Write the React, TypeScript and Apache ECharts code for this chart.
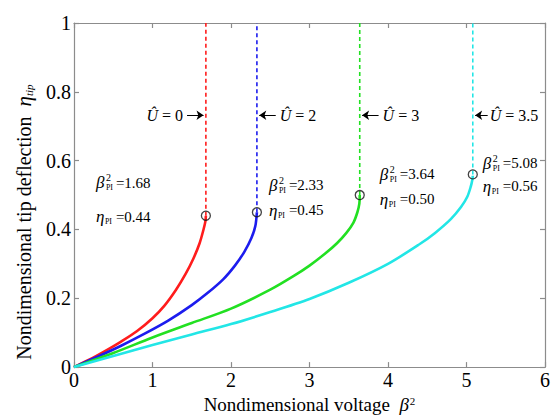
import React, { useEffect, useRef } from "react";
import * as echarts from "echarts";

const FONT = "Liberation Serif";

const xTickValues = [0, 1, 2, 3, 4, 5, 6];
const yTickValues = [0, 0.2, 0.4, 0.6, 0.8, 1];
const uLabels = ["0", "2", "3", "3.5"];
const piBeta = [1.68, 2.33, 3.64, 5.08];
const piEta = [0.44, 0.45, 0.5, 0.56];
const colors = ["#ff1c1c", "#1c1cee", "#22e022", "#22e6e6"];

const curveU0: [number, number][] = [
  [0, 0], [0.2, 0.022], [0.4, 0.047], [0.6, 0.074], [0.8, 0.104], [1.0, 0.142], [1.15, 0.178],
  [1.3, 0.225], [1.42, 0.27], [1.52, 0.315], [1.6, 0.36], [1.65, 0.4], [1.675, 0.425], [1.68, 0.44],
];
const curveU2: [number, number][] = [
  [0, 0], [0.3, 0.03], [0.6, 0.062], [0.9, 0.097], [1.2, 0.135], [1.5, 0.18], [1.7, 0.215],
  [1.9, 0.255], [2.05, 0.295], [2.17, 0.335], [2.26, 0.375], [2.31, 0.41], [2.33, 0.45],
];
const curveU3: [number, number][] = [
  [0, 0], [0.5, 0.041], [1, 0.086], [1.5, 0.128], [2, 0.17], [2.5, 0.225], [2.8, 0.265],
  [3.0, 0.295], [3.2, 0.33], [3.35, 0.36], [3.47, 0.39], [3.56, 0.42], [3.61, 0.45], [3.635, 0.475], [3.64, 0.5],
];
const curveU35: [number, number][] = [
  [0, 0], [0.5, 0.032], [1, 0.064], [1.5, 0.095], [2, 0.125], [2.5, 0.16], [3, 0.198],
  [3.5, 0.245], [4, 0.3], [4.4, 0.357], [4.6, 0.39], [4.8, 0.43], [4.93, 0.465], [5.01, 0.495],
  [5.055, 0.525], [5.075, 0.545], [5.08, 0.556],
];
const curves = [curveU0, curveU2, curveU3, curveU35];

const arrowEta = 0.732;

export default function App() {
  const ref = useRef<HTMLDivElement>(null);
  useEffect(() => {
    if (!ref.current) return;
    const chart = echarts.init(ref.current, null, { renderer: "svg" });

    const arrowSide = [-1, 1, 1, 1];
    const arrowTail = [0.24, 0.24, 0.24, 0.19];

    const axisLineStyle = { color: "#8c8c8c", width: 1.2 };
    const baseOption: any = {
      animation: false,
      backgroundColor: "#fff",
      textStyle: { fontFamily: FONT },
      grid: { left: 74, right: 4, top: 23, bottom: 49, containLabel: false },
      xAxis: [
        {
          type: "value", min: 0, max: 6, interval: 1, position: "bottom",
          axisLine: { show: true, onZero: false, lineStyle: axisLineStyle },
          axisTick: { show: true, inside: true, length: 5, lineStyle: axisLineStyle },
          splitLine: { show: false },
          axisLabel: { color: "#000", fontFamily: FONT, fontSize: 20, margin: 3,
            formatter: (v: number) => (xTickValues.includes(v) ? String(v) : "") },
          name: "{a|Nondimensional voltage  }{b|β}{c|2}",
          nameLocation: "middle", nameGap: 27,
          nameTextStyle: {
            color: "#000", fontFamily: FONT, fontSize: 19,
            rich: {
              a: { fontFamily: FONT, fontSize: 19, color: "#000" },
              b: { fontFamily: FONT, fontSize: 19, fontStyle: "italic", color: "#000" },
              c: { fontFamily: FONT, fontSize: 11, color: "#000", verticalAlign: "top", padding: [0, 0, 8, 1] },
            },
          },
        },
        {
          type: "value", min: 0, max: 6, interval: 1, position: "top",
          axisLine: { show: true, onZero: false, lineStyle: axisLineStyle },
          axisTick: { show: true, inside: true, length: 5, lineStyle: axisLineStyle },
          axisLabel: { show: false }, splitLine: { show: false },
        },
      ],
      yAxis: [
        {
          type: "value", min: 0, max: 1, interval: 0.2, position: "left",
          axisLine: { show: true, onZero: false, lineStyle: axisLineStyle },
          axisTick: { show: true, inside: true, length: 5, lineStyle: axisLineStyle },
          splitLine: { show: false },
          axisLabel: { color: "#000", fontFamily: FONT, fontSize: 20, margin: 3,
            formatter: (v: number) => {
              const t = yTickValues.find((y) => Math.abs(y - v) < 1e-9);
              return t === undefined ? "" : String(Math.round(t * 10) / 10);
            } },
          name: "{a|Nondimensional tip deflection  }{b|η}{c|tip}",
          nameLocation: "middle", nameGap: 40, nameRotate: 90,
          nameTextStyle: {
            color: "#000", fontFamily: FONT, fontSize: 20,
            padding: [0, 54, 0, 0],
            rich: {
              a: { fontFamily: FONT, fontSize: 20, color: "#000" },
              b: { fontFamily: FONT, fontSize: 21, fontStyle: "italic", color: "#000" },
              c: { fontFamily: FONT, fontSize: 11, fontStyle: "italic", color: "#000", verticalAlign: "bottom", padding: [6, 0, 0, 0] },
            },
          },
        },
        {
          type: "value", min: 0, max: 1, interval: 0.2, position: "right",
          axisLine: { show: true, onZero: false, lineStyle: axisLineStyle },
          axisTick: { show: true, inside: true, length: 5, lineStyle: axisLineStyle },
          axisLabel: { show: false }, splitLine: { show: false },
        },
      ],
      series: [
        ...curves.map((c, i) => ({
          type: "line", name: "U=" + uLabels[i], data: c, showSymbol: false, symbol: "none",
          smooth: 0.3, lineStyle: { color: colors[i], width: 2.6 }, z: 3,
        })),
        ...piBeta.map((b, i) => ({
          type: "line", data: [[b, piEta[i]], [b, 1]], showSymbol: false, symbol: "none",
          lineStyle: { color: colors[i], width: 1.6, type: [4, 3] }, z: 2,
          markLine: {
            silent: true, symbol: ["none", "arrow"], symbolSize: 7, label: { show: false },
            lineStyle: { color: "#000", width: 1, type: "solid" },
            emphasis: { disabled: true },
            data: [[
              { coord: [b + arrowSide[i] * arrowTail[i], arrowEta] },
              { coord: [b + arrowSide[i] * 0.03, arrowEta] },
            ]],
          },
        })),
        {
          type: "scatter", data: piBeta.map((b, i) => [b, piEta[i]]), symbol: "circle", symbolSize: 9,
          itemStyle: { color: "rgba(255,255,255,0)", borderColor: "#111", borderWidth: 1.3 }, z: 5,
        },
      ],
    };
    chart.setOption(baseOption);

    const graphics: any[] = [];
    piBeta.forEach((b, i) => {
      const tail = chart.convertToPixel({ xAxisIndex: 0, yAxisIndex: 0 }, [b + arrowSide[i] * arrowTail[i], arrowEta]) as number[];
      const left = arrowSide[i] < 0;
      graphics.push({
        type: "text",
        x: left ? tail[0] - 4 : tail[0] + (i === 3 ? 2 : 4),
        y: tail[1],
        style: {
          text: "{u|Û}{e| = " + uLabels[i] + "}",
          align: left ? "right" : "left", verticalAlign: "middle",
          rich: {
            u: { fontFamily: FONT, fontSize: 16, fontStyle: "italic", fill: "#000" },
            e: { fontFamily: FONT, fontSize: 16, fill: "#000" },
          },
        },
      });
    });
    const offs = [
      { dx: -110, by: -33, ey: 1 },
      { dx: 12, by: -27, ey: -2 },
      { dx: 20, by: -21, ey: 4 },
      { dx: 10, by: -11, ey: 12 },
    ];
    piBeta.forEach((b, i) => {
      const p = chart.convertToPixel({ xAxisIndex: 0, yAxisIndex: 0 }, [b, piEta[i]]) as number[];
      const L = p[0] + offs[i].dx;
      const yb = p[1] + offs[i].by;
      const ye = p[1] + offs[i].ey;
      const t = (text: string, x: number, y: number, size: number, italic = false) => ({
        type: "text", x, y,
        style: { text, fontFamily: FONT, fontSize: size, fontStyle: italic ? "italic" : "normal", fill: "#000", align: "left", verticalAlign: "middle" },
      });
      graphics.push(t("β", L, yb, 17, true));
      graphics.push(t("2", L + 10, yb - 5, 10));
      graphics.push(t("PI", L + 10, yb + 5, 8));
      graphics.push(t("=" + b.toFixed(2), L + 20, yb, 15));
      graphics.push(t("η", L, ye, 17, true));
      graphics.push(t("PI", L + 9, ye + 5, 8));
      graphics.push(t("=" + piEta[i].toFixed(2), L + 20, ye, 15));
    });
    chart.setOption({ graphic: graphics });

    return () => chart.dispose();
  }, []);
  return <div ref={ref} style={{ width: 553, height: 419, position: "absolute", left: 0, top: 0 }} />;
}
